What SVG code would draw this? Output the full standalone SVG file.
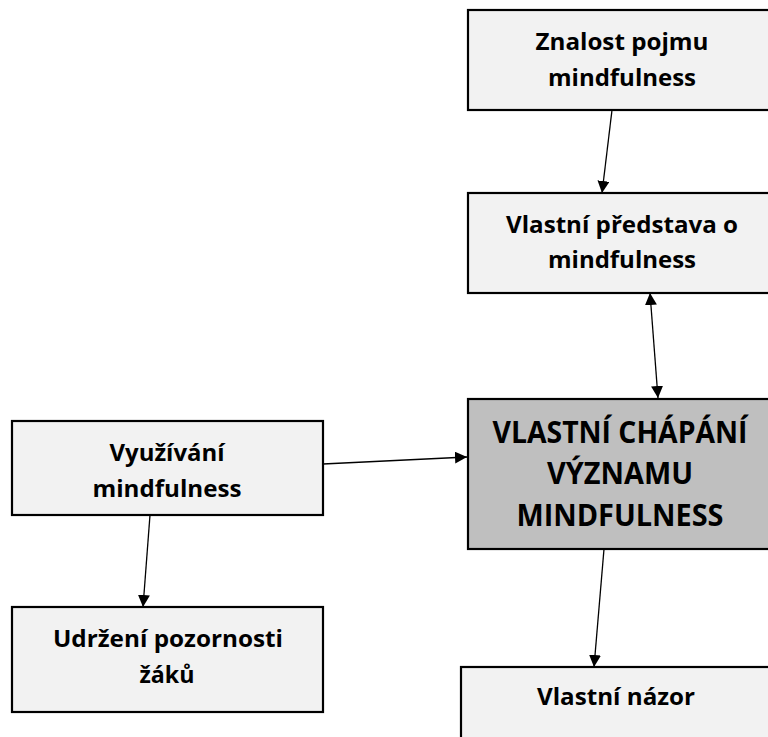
<svg xmlns="http://www.w3.org/2000/svg" width="768" height="737" viewBox="0 0 768 737">
<defs>
<style>
.box{fill:#f2f2f2;stroke:#000;stroke-width:2.2}
.main{fill:#bfbfbf;stroke:#000;stroke-width:2.2}
.t{font-family:"Open Sans","Liberation Sans",sans-serif;font-weight:bold;font-size:24px;fill:#000;text-anchor:middle}
.tb{font-family:"Open Sans","Liberation Sans",sans-serif;font-weight:bold;font-size:30px;fill:#000;text-anchor:middle}
.c{stroke:#000;stroke-width:1.3;fill:none}
</style>
<marker id="ah" viewBox="0 0 10 10" refX="10" refY="5" markerWidth="12" markerHeight="12" markerUnits="userSpaceOnUse" orient="auto-start-reverse">
<path d="M0,0 L10,5 L0,10 z" fill="#000"/>
</marker>
</defs>
<rect width="768" height="737" fill="#fff"/>
<g id="connectors">
<line class="c" x1="612" y1="110" x2="602" y2="193" marker-end="url(#ah)"/>
<line class="c" x1="650" y1="293" x2="658" y2="398" marker-start="url(#ah)" marker-end="url(#ah)"/>
<line class="c" x1="323" y1="464" x2="467" y2="457" marker-end="url(#ah)"/>
<line class="c" x1="150" y1="515" x2="143" y2="607" marker-end="url(#ah)"/>
<line class="c" x1="604" y1="549" x2="594" y2="667" marker-end="url(#ah)"/>
</g>
<g id="znalost">
<rect class="box" x="468" y="10" width="310" height="100"/>
<text class="t" x="622" y="50" textLength="173" lengthAdjust="spacingAndGlyphs">Znalost pojmu</text>
<text class="t" x="622" y="86" textLength="148" lengthAdjust="spacingAndGlyphs">mindfulness</text>
</g>
<g id="predstava">
<rect class="box" x="468" y="193" width="310" height="100"/>
<text class="t" x="622" y="233" textLength="232" lengthAdjust="spacingAndGlyphs">Vlastní představa o</text>
<text class="t" x="622" y="268" textLength="148" lengthAdjust="spacingAndGlyphs">mindfulness</text>
</g>
<g id="chapani">
<rect class="main" x="468" y="399" width="310" height="150"/>
<text class="tb" x="620" y="443" textLength="255" lengthAdjust="spacingAndGlyphs">VLASTNÍ CHÁPÁNÍ</text>
<text class="tb" x="620" y="484" textLength="146" lengthAdjust="spacingAndGlyphs">VÝZNAMU</text>
<text class="tb" x="620" y="526" textLength="207" lengthAdjust="spacingAndGlyphs">MINDFULNESS</text>
</g>
<g id="vyuzivani">
<rect class="box" x="12" y="421" width="311" height="94"/>
<text class="t" x="167" y="461" textLength="115" lengthAdjust="spacingAndGlyphs">Využívání</text>
<text class="t" x="167" y="497" textLength="149" lengthAdjust="spacingAndGlyphs">mindfulness</text>
</g>
<g id="udrzeni">
<rect class="box" x="12" y="607" width="311" height="105"/>
<text class="t" x="168" y="647" textLength="230" lengthAdjust="spacingAndGlyphs">Udržení pozornosti</text>
<text class="t" x="167" y="683" textLength="55" lengthAdjust="spacingAndGlyphs">žáků</text>
</g>
<g id="nazor">
<rect class="box" x="461" y="667" width="320" height="90"/>
<text class="t" x="616" y="705" textLength="158" lengthAdjust="spacingAndGlyphs">Vlastní názor</text>
</g>
</svg>
